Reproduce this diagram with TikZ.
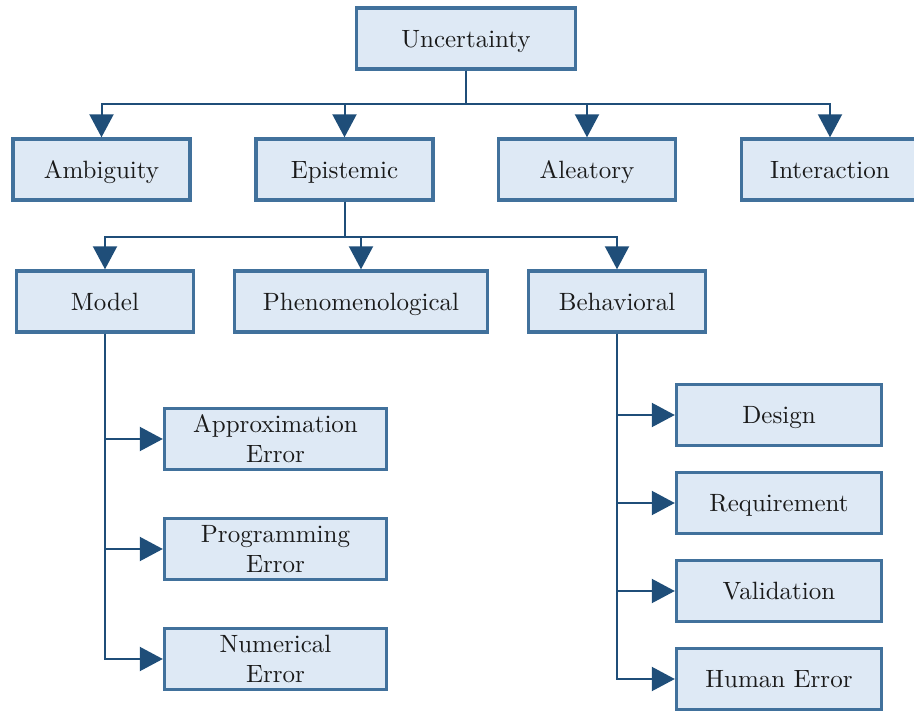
\documentclass[tikz,border=0pt]{standalone}
\usetikzlibrary{arrows.meta}
\definecolor{boxfill}{HTML}{DEE9F5}
\definecolor{boxline}{HTML}{41719C}
\definecolor{linkcol}{HTML}{1F4E79}
\definecolor{txtcol}{HTML}{1A1A1A}
\begin{document}
\begin{tikzpicture}[x=0.4pt,y=-0.4pt,
  box/.style={draw=boxline,fill=boxfill,line width=1.35pt,rectangle,
    minimum width=70.8pt,minimum height=24.4pt,inner sep=0pt,
    align=center,text=txtcol,font=\fontsize{10}{12}\selectfont},
  onebox/.style={box,text height=7pt,text depth=0pt},
  link/.style={draw=linkcol,line width=0.8pt,
    -{Triangle[length=9.2pt,width=9.6pt]}}]
\useasboundingbox (0,0) rectangle (914,713);

% top level
\node[onebox,minimum width=87.6pt] (unc) at (466,38.5) {Uncertainty};

% second level
\node[onebox] (amb) at (101.5,169.5) {Ambiguity};
\node[onebox] (epi) at (344.5,169.5) {Epistemic};
\node[onebox] (ale) at (587,169.5) {Aleatory};
\node[onebox] (int) at (830,169.5) {Interaction};

% third level
\node[onebox] (mod) at (105,301.5) {Model};
\node[onebox,minimum width=101.2pt] (phe) at (361,301.5) {Phenomenological};
\node[onebox] (beh) at (617,301.5) {Behavioral};

% model sources
\node[box,minimum width=88.8pt] (apx) at (275.5,439) {Approximation\\Error};
\node[box,minimum width=88.8pt] (prg) at (275.5,549) {Programming\\Error};
\node[box,minimum width=88.8pt] (num) at (275.5,659) {Numerical\\Error};

% behavioral sources
\node[onebox,minimum width=82pt] (des) at (779,415) {Design};
\node[onebox,minimum width=82pt] (req) at (779,503) {Requirement};
\node[onebox,minimum width=82pt] (val) at (779,591) {Validation};
\node[onebox,minimum width=82pt] (hum) at (779,679) {Human Error};

% connectors from Uncertainty
\draw[link] (unc.south) -- ++(0,33.5) -| (amb.north);
\draw[link] (unc.south) -- ++(0,33.5) -| (epi.north);
\draw[link] (unc.south) -- ++(0,33.5) -| (ale.north);
\draw[link] (unc.south) -- ++(0,33.5) -| (int.north);

% connectors from Epistemic
\draw[link] (epi.south) -- ++(0,35) -| (mod.north);
\draw[link] (epi.south) -- ++(0,35) -| (phe.north);
\draw[link] (epi.south) -- ++(0,35) -| (beh.north);

% connectors from Model
\draw[link] (mod.south) |- (apx.west);
\draw[link] (mod.south) |- (prg.west);
\draw[link] (mod.south) |- (num.west);

% connectors from Behavioral
\draw[link] (beh.south) |- (des.west);
\draw[link] (beh.south) |- (req.west);
\draw[link] (beh.south) |- (val.west);
\draw[link] (beh.south) |- (hum.west);
\end{tikzpicture}
\end{document}
